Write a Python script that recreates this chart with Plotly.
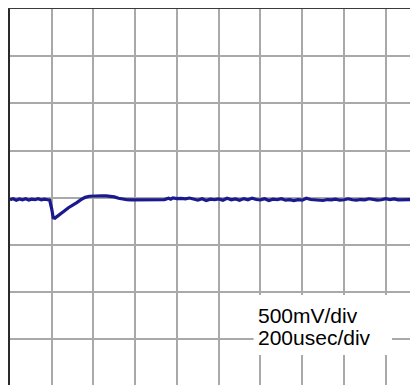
import plotly.graph_objects as go

# scope trace: time in usec, voltage in V (500mV/div, 200usec/div)
time_us = [0, 15, 30, 45, 60, 75, 90, 105, 120, 135, 150, 165, 180, 190,
           200, 207, 215, 225, 240, 260, 280, 300, 320, 340, 360, 380, 400,
           420, 440, 460, 480, 500, 520, 540, 560, 580, 600, 620, 640, 660,
           680, 700, 720, 740, 760, 770, 780, 800, 820, 840, 860, 880, 900,
           920, 940, 960, 980, 1000, 1020, 1040, 1060, 1080, 1100, 1120,
           1140, 1160, 1180, 1200, 1220, 1240, 1260, 1280, 1300, 1320, 1340,
           1360, 1380, 1400, 1420, 1440, 1460, 1480, 1500, 1520, 1540, 1560,
           1580, 1600, 1620, 1640, 1660, 1680, 1700, 1720, 1740, 1760, 1780,
           1800, 1820, 1840, 1860, 1880, 1900, 1920, 1940, 1960, 1980, 2000]
volts = [-0.02, -0.01, -0.025, -0.012, -0.022, -0.01, -0.024, -0.014, -0.02,
         -0.01, -0.022, -0.015, -0.02, -0.025,
         -0.12, -0.21, -0.215, -0.2, -0.18, -0.14, -0.105, -0.08, -0.05,
         -0.02, 0.005, 0.017, 0.02, 0.018, 0.022, 0.02, 0.018, 0.01,
         -0.005, -0.015, -0.02, -0.022, -0.022, -0.022, -0.02, -0.022,
         -0.02, -0.021, -0.02, -0.018, -0.005, -0.015, 0.0, -0.008, -0.005,
         -0.01, -0.002, -0.015, -0.025, -0.01, -0.028, -0.015, -0.02,
         -0.012, -0.025, -0.005, -0.02, -0.012, -0.025, -0.008, -0.02,
         -0.003, -0.018, -0.022, -0.01, -0.028, -0.015, -0.02, -0.01,
         -0.025, -0.02, -0.03, -0.02, -0.025, -0.005, -0.018, -0.022,
         -0.018, -0.028, -0.018, -0.022, -0.015, -0.025, -0.02, -0.01,
         -0.02, -0.025, -0.018, -0.022, -0.01, -0.02, -0.025, -0.02,
         -0.008, -0.02, -0.012, -0.022, -0.02, -0.018, -0.022, -0.02, -0.02,
         -0.015, -0.02]

scale_lines = ["500mV/div", "200usec/div"]

trace = go.Scatter(x=time_us, y=volts, mode="lines",
                   line=dict(color="#1a1a8e", width=3.2), hoverinfo="skip")

grid = "#a9a9a9"
txt_font = dict(family="Liberation Sans, Arial", size=21, color="black")
layout = go.Layout(
    width=418, height=385,
    margin=dict(l=2, r=0, t=1, b=0),
    paper_bgcolor="white", plot_bgcolor="white",
    showlegend=False,
    xaxis=dict(range=[0, 1993], dtick=200, tick0=0, showgrid=True,
               gridcolor=grid, gridwidth=2, zeroline=False,
               showticklabels=False, ticks="", side="top",
               showline=True, linecolor="#3a3a3a", linewidth=2),
    yaxis=dict(range=[-2.067, 2.0], dtick=0.5, tick0=0, showgrid=True,
               gridcolor=grid, gridwidth=2, zeroline=False,
               showticklabels=False, ticks="",
               showline=True, linecolor="#2a2a2a", linewidth=2),
    shapes=[dict(type="rect", xref="x", yref="y", x0=1167, x1=1830,
                 y0=-1.665, y1=-1.03, fillcolor="white",
                 line=dict(width=0), layer="above")],
    annotations=[
        dict(x=1180, y=-1.25, xref="x", yref="y", text=scale_lines[0],
             showarrow=False, xanchor="left", yanchor="middle",
             height=21, font=txt_font),
        dict(x=1180, y=-1.475, xref="x", yref="y", text=scale_lines[1],
             showarrow=False, xanchor="left", yanchor="middle",
             height=21, font=txt_font),
    ],
)

fig = go.Figure(data=[trace], layout=layout)
fig.write_html("out.html")
